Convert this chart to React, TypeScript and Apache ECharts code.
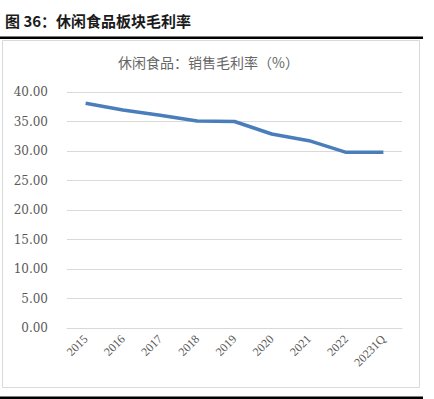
import React, { useEffect, useRef } from "react";
import * as echarts from "echarts";

const categories = ["2015", "2016", "2017", "2018", "2019", "2020", "2021", "2022", "20231Q"];
const grossMargin = [38.08, 36.95, 36.05, 35.08, 35.0, 32.88, 31.75, 29.78, 29.78];
const figureTitle = "图 36：休闲食品板块毛利率";
const chartTitle = "休闲食品：销售毛利率（%）";

export default function App() {
  const ref = useRef<HTMLDivElement>(null);
  useEffect(() => {
    if (!ref.current) return;
    const chart = echarts.init(ref.current, null, { renderer: "svg" });
    const serif = "'Liberation Serif', 'DejaVu Serif', 'Noto Sans CJK SC', serif";
    chart.setOption({
      animation: false,
      backgroundColor: "#ffffff",
      graphic: [
        {
          type: "text",
          left: 5,
          top: 13,
          style: {
            text: figureTitle,
            font: "bold 15px 'Noto Sans CJK SC', sans-serif",
            fill: "#1a1a1a",
          },
        },
        {
          type: "rect",
          shape: { x: 0, y: 36.5, width: 423, height: 2.5 },
          style: { fill: "#000000" },
        },
        {
          type: "rect",
          shape: { x: 2.5, y: 40.5, width: 417, height: 347 },
          style: { fill: "none", stroke: "#d9d9d9", lineWidth: 1 },
        },
        {
          type: "rect",
          shape: { x: 0, y: 396.5, width: 423, height: 3 },
          style: { fill: "#000000" },
        },
        {
          type: "text",
          x: 208.5,
          y: 62,
          style: {
            text: chartTitle,
            font: "14px 'Noto Sans CJK SC', sans-serif",
            fill: "#666666",
            align: "center",
            verticalAlign: "middle",
          },
        },
      ],
      grid: { left: 67, right: 32, top: 92, bottom: 71, containLabel: false },
      xAxis: {
        type: "category",
        data: categories,
        boundaryGap: true,
        axisLine: { show: true, lineStyle: { color: "#d9d9d9", width: 1 } },
        axisTick: { show: false },
        axisLabel: {
          rotate: 45,
          margin: 9,
          color: "#595959",
          fontSize: 12,
          fontFamily: serif,
        },
      },
      yAxis: {
        type: "value",
        min: 0,
        max: 40,
        interval: 5,
        axisLine: { show: false },
        axisTick: { show: false },
        splitLine: { lineStyle: { color: "#d9d9d9", width: 1 } },
        axisLabel: {
          margin: 19,
          color: "#595959",
          fontSize: 12,
          fontFamily: "'DejaVu Serif', serif",
          formatter: (v: number) => v.toFixed(2),
        },
      },
      series: [
        {
          type: "line",
          data: grossMargin,
          symbol: "none",
          lineStyle: { color: "#4a7ebb", width: 3.5 },
        },
      ],
    });
    return () => chart.dispose();
  }, []);
  return (
    <div
      ref={ref}
      style={{ position: "fixed", left: 0, top: 0, width: 434, height: 399 }}
    />
  );
}
